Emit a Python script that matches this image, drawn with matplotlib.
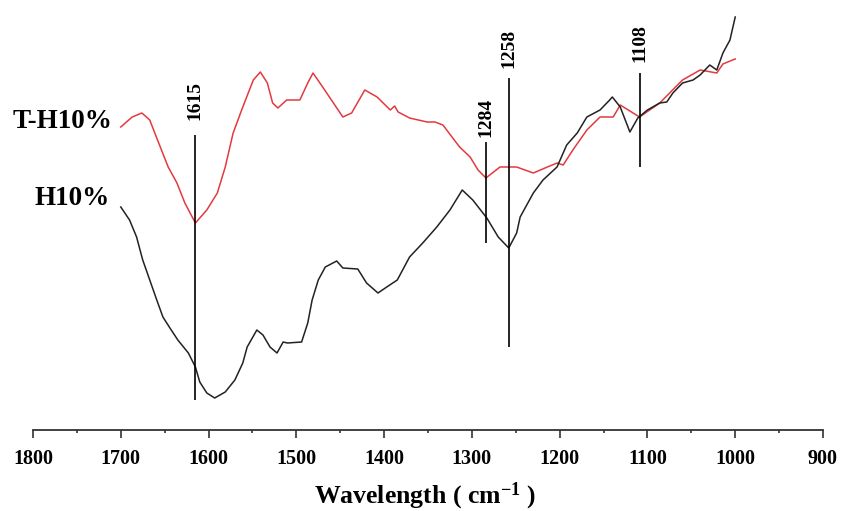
import matplotlib
matplotlib.use("Agg")
import matplotlib.pyplot as plt
from matplotlib.ticker import MultipleLocator

plt.rcParams['font.family'] = ['Liberation Serif', 'DejaVu Serif']
plt.rcParams['font.weight'] = 'bold'
plt.rcParams['mathtext.fontset'] = 'custom'
plt.rcParams['mathtext.rm'] = 'Liberation Serif:bold'
plt.rcParams['mathtext.bf'] = 'Liberation Serif:bold'
plt.rcParams['mathtext.it'] = 'Liberation Serif:bold'

# T-H10% spectrum (wavenumber cm-1, arbitrary transmittance units)
th_wn = [1700, 1687, 1676, 1667, 1655, 1646, 1636, 1627, 1615, 1602, 1590, 1581,
         1572, 1561, 1549, 1541, 1533, 1527, 1521, 1511, 1496, 1487, 1481, 1470,
         1447, 1437, 1422, 1408, 1393, 1388, 1384, 1371, 1351, 1342, 1333, 1314,
         1302, 1293, 1284, 1268, 1249, 1230, 1214, 1203, 1196, 1185, 1169, 1154,
         1139, 1131, 1109, 1086, 1060, 1040, 1021, 1014, 1003, 1000]
th_val = [303, 313, 317, 310, 283, 263, 247, 227, 207, 220, 237, 263,
          297, 323, 350, 358, 347, 327, 322, 330, 330, 347, 357, 343,
          313, 317, 340, 333, 320, 324, 318, 312, 308, 308, 305, 283,
          273, 260, 252, 263, 263, 257, 263, 267, 265, 280, 300, 313,
          313, 325, 313, 327, 350, 360, 357, 366, 370, 371]

# H10% spectrum
h_wn = [1700, 1690, 1682, 1675, 1667, 1659, 1652, 1644, 1635, 1623, 1615, 1610,
        1602, 1593, 1581, 1570, 1561, 1556, 1545, 1538, 1530, 1522, 1515, 1510,
        1494, 1487, 1482, 1475, 1467, 1454, 1447, 1430, 1420, 1407, 1397, 1385,
        1371, 1356, 1340, 1325, 1311, 1299, 1283, 1270, 1258, 1249, 1245, 1230,
        1219, 1203, 1192, 1180, 1169, 1154, 1143, 1140, 1131, 1120, 1111, 1100,
        1086, 1078, 1071, 1060, 1048, 1040, 1029, 1021, 1014, 1006, 1000]
h_val = [223, 210, 193, 170, 150, 130, 113, 102, 90, 77, 63, 48,
         37, 32, 38, 50, 67, 83, 100, 95, 83, 77, 88, 87,
         88, 107, 130, 150, 163, 169, 162, 161, 147, 137, 143, 150,
         173, 187, 203, 220, 240, 230, 212, 193, 182, 197, 213, 237,
         250, 263, 285, 297, 313, 320, 330, 333, 323, 298, 312, 320,
         327, 328, 337, 347, 350, 355, 365, 360, 377, 390, 413]

# Marked peaks: position, line bottom, line top, label bottom
peak_pos = [1615, 1284, 1258, 1108]
peak_lo = [30, 187, 83, 263]
peak_hi = [295, 288, 352, 357]
peak_txt = [310, 293, 362, 368]
peak_labels = ['1615', '1284', '1258', '1108']

fig = plt.figure(figsize=(8.42, 5.11), dpi=100)
ax = fig.add_axes([33/842, 1 - 430/511, 790/842, 430/511])

ax.plot(th_wn, th_val, color='#e23a3f', lw=1.1)
ax.plot(h_wn, h_val, color='#222222', lw=1.1)

ax.vlines(peak_pos, peak_lo, peak_hi, color='black', lw=1.2)
for p, t, s in zip(peak_pos, peak_txt, peak_labels):
    ax.text(p, t, s, rotation=90, ha='center', va='bottom', fontsize=14,
            fontweight='bold')

ax.text(1823, 309, 'T-H10%', ha='left', va='center', fontsize=19.5,
        fontweight='bold', clip_on=False)
ax.text(1798, 232, 'H10%', ha='left', va='center', fontsize=19.5,
        fontweight='bold', clip_on=False)

ax.set_xlim(1800, 900)
ax.set_ylim(0, 430)
for s in ['top', 'right', 'left']:
    ax.spines[s].set_visible(False)
ax.spines['bottom'].set_color('#333333')
ax.spines['bottom'].set_linewidth(1.3)
ax.set_yticks([])
ax.xaxis.set_major_locator(MultipleLocator(100))
ax.xaxis.set_minor_locator(MultipleLocator(50))
ax.tick_params(axis='x', which='major', length=6, width=1.2, color='#333333',
               labelsize=14.5, pad=8)
ax.tick_params(axis='x', which='minor', length=2.5, width=1.2, color='#333333')
for lab in ax.get_xticklabels():
    lab.set_fontweight('bold')

ax.set_xlabel(r'Wavelength ( cm$^{-1}$ )', fontsize=18.5, fontweight='bold',
              va='center')
ax.xaxis.set_label_coords((425 - 33) / 790, -(496 - 430) / 430)

fig.savefig('out.png', dpi=100)
